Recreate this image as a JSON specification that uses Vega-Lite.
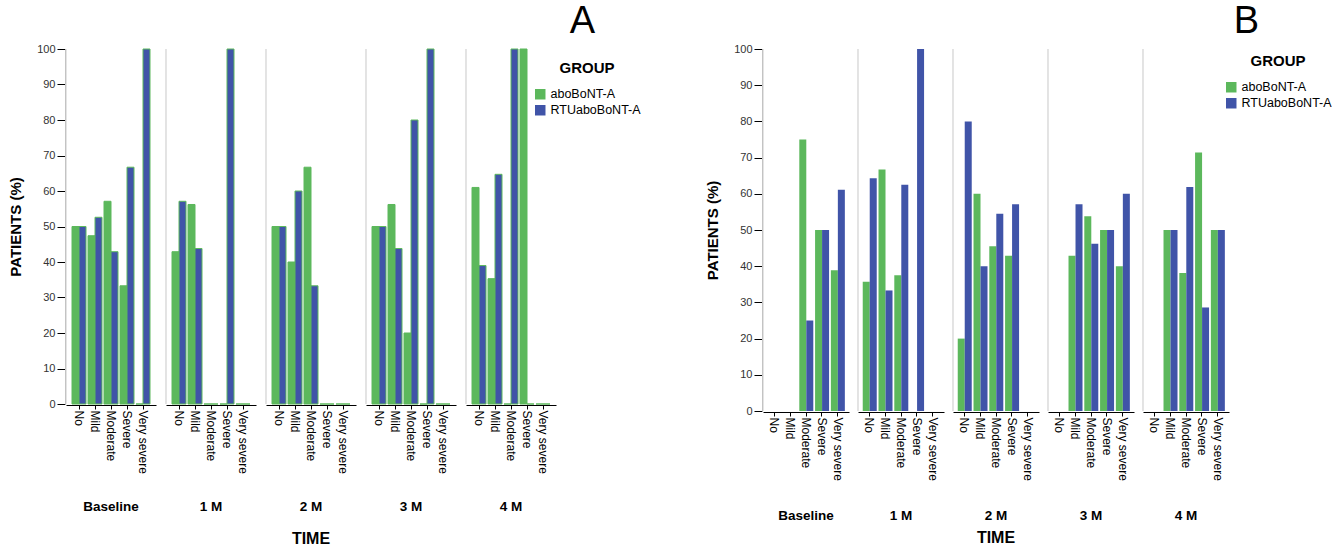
{
  "$schema": "https://vega.github.io/schema/vega-lite/v6.json",
  "background": "white",
  "padding": {"left": 8, "top": 3, "right": 0, "bottom": 0},
  "config": {
    "font": "Liberation Sans",
    "view": {"stroke": null},
    "axisX": {"title": null, "labelAngle": 90, "labelFontSize": 12, "labelColor": "black", "tickColor": "black", "tickSize": 4, "domainColor": "black", "labelPadding": 1, "grid": false},
    "axisY": {"labelFontSize": 11, "labelColor": "#333", "tickColor": "black", "tickSize": 8, "labelPadding": 2, "domainColor": "#bdbdbd", "grid": false, "titleFontSize": 15, "titleFontWeight": "bold", "titleColor": "black", "titlePadding": 13, "zindex": 1},
    "header": {"labelOrient": "bottom", "titleOrient": "bottom", "labelFontSize": 13.5, "labelFontWeight": "bold", "labelColor": "black", "titleFontSize": 16, "titleFontWeight": "bold", "titleColor": "black"},
    "legend": {"titleFontSize": 15, "titleFontWeight": "bold", "titleColor": "black", "labelFontSize": 12.5, "labelColor": "black", "symbolType": "square", "symbolSize": 110, "symbolStrokeWidth": 0, "rowPadding": 3, "titlePadding": 12, "titleAnchor": "middle"}
  },
  "datasets": {
    "a": [
      {"time": "Baseline", "sev": "No", "group": "aboBoNT-A", "value": 50},
      {"time": "Baseline", "sev": "No", "group": "RTUaboBoNT-A", "value": 50},
      {"time": "Baseline", "sev": "Mild", "group": "aboBoNT-A", "value": 47.4},
      {"time": "Baseline", "sev": "Mild", "group": "RTUaboBoNT-A", "value": 52.6},
      {"time": "Baseline", "sev": "Moderate", "group": "aboBoNT-A", "value": 57.1},
      {"time": "Baseline", "sev": "Moderate", "group": "RTUaboBoNT-A", "value": 42.9},
      {"time": "Baseline", "sev": "Severe", "group": "aboBoNT-A", "value": 33.3},
      {"time": "Baseline", "sev": "Severe", "group": "RTUaboBoNT-A", "value": 66.7},
      {"time": "Baseline", "sev": "Very severe", "group": "aboBoNT-A", "value": 0},
      {"time": "Baseline", "sev": "Very severe", "group": "RTUaboBoNT-A", "value": 100},
      {"time": "1 M", "sev": "No", "group": "aboBoNT-A", "value": 42.9},
      {"time": "1 M", "sev": "No", "group": "RTUaboBoNT-A", "value": 57.1},
      {"time": "1 M", "sev": "Mild", "group": "aboBoNT-A", "value": 56.2},
      {"time": "1 M", "sev": "Mild", "group": "RTUaboBoNT-A", "value": 43.8},
      {"time": "1 M", "sev": "Moderate", "group": "aboBoNT-A", "value": 0},
      {"time": "1 M", "sev": "Moderate", "group": "RTUaboBoNT-A", "value": 0},
      {"time": "1 M", "sev": "Severe", "group": "aboBoNT-A", "value": 0},
      {"time": "1 M", "sev": "Severe", "group": "RTUaboBoNT-A", "value": 100},
      {"time": "1 M", "sev": "Very severe", "group": "aboBoNT-A", "value": 0},
      {"time": "1 M", "sev": "Very severe", "group": "RTUaboBoNT-A", "value": 0},
      {"time": "2 M", "sev": "No", "group": "aboBoNT-A", "value": 50},
      {"time": "2 M", "sev": "No", "group": "RTUaboBoNT-A", "value": 50},
      {"time": "2 M", "sev": "Mild", "group": "aboBoNT-A", "value": 40},
      {"time": "2 M", "sev": "Mild", "group": "RTUaboBoNT-A", "value": 60},
      {"time": "2 M", "sev": "Moderate", "group": "aboBoNT-A", "value": 66.7},
      {"time": "2 M", "sev": "Moderate", "group": "RTUaboBoNT-A", "value": 33.3},
      {"time": "2 M", "sev": "Severe", "group": "aboBoNT-A", "value": 0},
      {"time": "2 M", "sev": "Severe", "group": "RTUaboBoNT-A", "value": 0},
      {"time": "2 M", "sev": "Very severe", "group": "aboBoNT-A", "value": 0},
      {"time": "2 M", "sev": "Very severe", "group": "RTUaboBoNT-A", "value": 0},
      {"time": "3 M", "sev": "No", "group": "aboBoNT-A", "value": 50},
      {"time": "3 M", "sev": "No", "group": "RTUaboBoNT-A", "value": 50},
      {"time": "3 M", "sev": "Mild", "group": "aboBoNT-A", "value": 56.2},
      {"time": "3 M", "sev": "Mild", "group": "RTUaboBoNT-A", "value": 43.8},
      {"time": "3 M", "sev": "Moderate", "group": "aboBoNT-A", "value": 20},
      {"time": "3 M", "sev": "Moderate", "group": "RTUaboBoNT-A", "value": 80},
      {"time": "3 M", "sev": "Severe", "group": "aboBoNT-A", "value": 0},
      {"time": "3 M", "sev": "Severe", "group": "RTUaboBoNT-A", "value": 100},
      {"time": "3 M", "sev": "Very severe", "group": "aboBoNT-A", "value": 0},
      {"time": "3 M", "sev": "Very severe", "group": "RTUaboBoNT-A", "value": 0},
      {"time": "4 M", "sev": "No", "group": "aboBoNT-A", "value": 61},
      {"time": "4 M", "sev": "No", "group": "RTUaboBoNT-A", "value": 39},
      {"time": "4 M", "sev": "Mild", "group": "aboBoNT-A", "value": 35.3},
      {"time": "4 M", "sev": "Mild", "group": "RTUaboBoNT-A", "value": 64.7},
      {"time": "4 M", "sev": "Moderate", "group": "aboBoNT-A", "value": 0},
      {"time": "4 M", "sev": "Moderate", "group": "RTUaboBoNT-A", "value": 100},
      {"time": "4 M", "sev": "Severe", "group": "aboBoNT-A", "value": 100},
      {"time": "4 M", "sev": "Severe", "group": "RTUaboBoNT-A", "value": 0},
      {"time": "4 M", "sev": "Very severe", "group": "aboBoNT-A", "value": 0},
      {"time": "4 M", "sev": "Very severe", "group": "RTUaboBoNT-A", "value": 0}
    ],
    "b": [
      {"time": "Baseline", "sev": "No", "group": "aboBoNT-A", "value": 0},
      {"time": "Baseline", "sev": "No", "group": "RTUaboBoNT-A", "value": 0},
      {"time": "Baseline", "sev": "Mild", "group": "aboBoNT-A", "value": 0},
      {"time": "Baseline", "sev": "Mild", "group": "RTUaboBoNT-A", "value": 0},
      {"time": "Baseline", "sev": "Moderate", "group": "aboBoNT-A", "value": 75},
      {"time": "Baseline", "sev": "Moderate", "group": "RTUaboBoNT-A", "value": 25},
      {"time": "Baseline", "sev": "Severe", "group": "aboBoNT-A", "value": 50},
      {"time": "Baseline", "sev": "Severe", "group": "RTUaboBoNT-A", "value": 50},
      {"time": "Baseline", "sev": "Very severe", "group": "aboBoNT-A", "value": 38.9},
      {"time": "Baseline", "sev": "Very severe", "group": "RTUaboBoNT-A", "value": 61.1},
      {"time": "1 M", "sev": "No", "group": "aboBoNT-A", "value": 35.7},
      {"time": "1 M", "sev": "No", "group": "RTUaboBoNT-A", "value": 64.3},
      {"time": "1 M", "sev": "Mild", "group": "aboBoNT-A", "value": 66.7},
      {"time": "1 M", "sev": "Mild", "group": "RTUaboBoNT-A", "value": 33.3},
      {"time": "1 M", "sev": "Moderate", "group": "aboBoNT-A", "value": 37.5},
      {"time": "1 M", "sev": "Moderate", "group": "RTUaboBoNT-A", "value": 62.5},
      {"time": "1 M", "sev": "Severe", "group": "aboBoNT-A", "value": 0},
      {"time": "1 M", "sev": "Severe", "group": "RTUaboBoNT-A", "value": 100},
      {"time": "1 M", "sev": "Very severe", "group": "aboBoNT-A", "value": 0},
      {"time": "1 M", "sev": "Very severe", "group": "RTUaboBoNT-A", "value": 0},
      {"time": "2 M", "sev": "No", "group": "aboBoNT-A", "value": 20},
      {"time": "2 M", "sev": "No", "group": "RTUaboBoNT-A", "value": 80},
      {"time": "2 M", "sev": "Mild", "group": "aboBoNT-A", "value": 60},
      {"time": "2 M", "sev": "Mild", "group": "RTUaboBoNT-A", "value": 40},
      {"time": "2 M", "sev": "Moderate", "group": "aboBoNT-A", "value": 45.5},
      {"time": "2 M", "sev": "Moderate", "group": "RTUaboBoNT-A", "value": 54.5},
      {"time": "2 M", "sev": "Severe", "group": "aboBoNT-A", "value": 42.9},
      {"time": "2 M", "sev": "Severe", "group": "RTUaboBoNT-A", "value": 57.1},
      {"time": "2 M", "sev": "Very severe", "group": "aboBoNT-A", "value": 0},
      {"time": "2 M", "sev": "Very severe", "group": "RTUaboBoNT-A", "value": 0},
      {"time": "3 M", "sev": "No", "group": "aboBoNT-A", "value": 0},
      {"time": "3 M", "sev": "No", "group": "RTUaboBoNT-A", "value": 0},
      {"time": "3 M", "sev": "Mild", "group": "aboBoNT-A", "value": 42.9},
      {"time": "3 M", "sev": "Mild", "group": "RTUaboBoNT-A", "value": 57.1},
      {"time": "3 M", "sev": "Moderate", "group": "aboBoNT-A", "value": 53.8},
      {"time": "3 M", "sev": "Moderate", "group": "RTUaboBoNT-A", "value": 46.2},
      {"time": "3 M", "sev": "Severe", "group": "aboBoNT-A", "value": 50},
      {"time": "3 M", "sev": "Severe", "group": "RTUaboBoNT-A", "value": 50},
      {"time": "3 M", "sev": "Very severe", "group": "aboBoNT-A", "value": 40},
      {"time": "3 M", "sev": "Very severe", "group": "RTUaboBoNT-A", "value": 60},
      {"time": "4 M", "sev": "No", "group": "aboBoNT-A", "value": 0},
      {"time": "4 M", "sev": "No", "group": "RTUaboBoNT-A", "value": 0},
      {"time": "4 M", "sev": "Mild", "group": "aboBoNT-A", "value": 50},
      {"time": "4 M", "sev": "Mild", "group": "RTUaboBoNT-A", "value": 50},
      {"time": "4 M", "sev": "Moderate", "group": "aboBoNT-A", "value": 38.1},
      {"time": "4 M", "sev": "Moderate", "group": "RTUaboBoNT-A", "value": 61.9},
      {"time": "4 M", "sev": "Severe", "group": "aboBoNT-A", "value": 71.4},
      {"time": "4 M", "sev": "Severe", "group": "RTUaboBoNT-A", "value": 28.6},
      {"time": "4 M", "sev": "Very severe", "group": "aboBoNT-A", "value": 50},
      {"time": "4 M", "sev": "Very severe", "group": "RTUaboBoNT-A", "value": 50}
    ]
  },
  "resolve": {"scale": {"color": "independent"}},
  "spacing": 64,
  "hconcat": [
    {
      "data": {"name": "a"},
      "title": {"text": "A", "anchor": "end", "fontSize": 38, "fontWeight": "normal", "color": "black", "offset": 2, "dx": 529, "frame": "group"},
      "facet": {"column": {"field": "time", "type": "ordinal", "sort": ["Baseline", "1 M", "2 M", "3 M", "4 M"], "title": "TIME", "header": {"labelPadding": 27, "titlePadding": 7}}},
      "spacing": 9,
      "spec": {
        "width": 90,
        "height": 355,
        "encoding": {
          "x": {"field": "sev", "type": "nominal", "sort": ["No", "Mild", "Moderate", "Severe", "Very severe"], "scale": {"paddingInner": 0.125, "paddingOuter": 0.375}}
        },
        "layer": [
          {
            "transform": [{"filter": "datum.sev === 'No' && datum.group === 'aboBoNT-A'"}],
            "mark": {"type": "rule", "color": "#c8c8c8", "strokeWidth": 1},
            "encoding": {"x": {"field": "sev", "type": "nominal", "bandPosition": -0.4286}}
          },
          {
            "mark": {"type": "bar", "stroke": "#5cb85c", "strokeWidth": 1},
            "encoding": {
              "xOffset": {"field": "group", "sort": ["aboBoNT-A", "RTUaboBoNT-A"]},
              "y": {"field": "value", "type": "quantitative", "scale": {"domain": [0, 100], "nice": false}, "axis": {"title": "PATIENTS (%)", "values": [0, 10, 20, 30, 40, 50, 60, 70, 80, 90, 100]}},
              "color": {"field": "group", "type": "nominal", "scale": {"domain": ["aboBoNT-A", "RTUaboBoNT-A"], "range": ["#5cb85c", "#4054a8"]}, "legend": {"title": "GROUP", "orient": "none", "legendX": 468, "legendY": 12}}
            }
          }
        ]
      }
    },
    {
      "data": {"name": "b"},
      "title": {"text": "B", "anchor": "end", "fontSize": 38, "fontWeight": "normal", "color": "black", "offset": 2, "dx": 496, "frame": "group"},
      "facet": {"column": {"field": "time", "type": "ordinal", "sort": ["Baseline", "1 M", "2 M", "3 M", "4 M"], "title": "TIME", "header": {"labelPadding": 29, "titlePadding": -3}}},
      "spacing": 8,
      "spec": {
        "width": 86,
        "height": 362,
        "encoding": {
          "x": {"field": "sev", "type": "nominal", "sort": ["No", "Mild", "Moderate", "Severe", "Very severe"], "scale": {"paddingInner": 0.15, "paddingOuter": 0.3}}
        },
        "layer": [
          {
            "transform": [{"filter": "datum.sev === 'No' && datum.group === 'aboBoNT-A'"}],
            "mark": {"type": "rule", "color": "#c8c8c8", "strokeWidth": 1},
            "encoding": {"x": {"field": "sev", "type": "nominal", "bandPosition": -0.353}}
          },
          {
            "mark": {"type": "bar"},
            "encoding": {
              "xOffset": {"field": "group", "sort": ["aboBoNT-A", "RTUaboBoNT-A"]},
              "y": {"field": "value", "type": "quantitative", "scale": {"domain": [0, 100], "nice": false}, "axis": {"title": "PATIENTS (%)", "values": [0, 10, 20, 30, 40, 50, 60, 70, 80, 90, 100]}},
              "color": {"field": "group", "type": "nominal", "scale": {"domain": ["aboBoNT-A", "RTUaboBoNT-A"], "range": ["#5cb85c", "#4054a8"]}, "legend": {"title": "GROUP", "orient": "none", "legendX": 462, "legendY": 5}}
            }
          }
        ]
      }
    }
  ]
}
